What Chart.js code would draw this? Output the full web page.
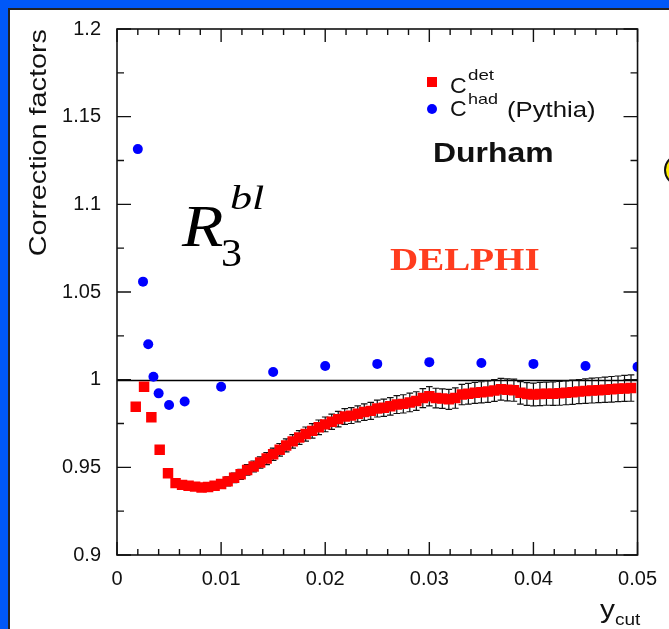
<!DOCTYPE html>
<html>
<head>
<meta charset="utf-8">
<script src="https://cdn.jsdelivr.net/npm/chart.js@4"></script>
<style>
  html, body { margin: 0; padding: 0; }
  body { width: 669px; height: 629px; background: #0058f8; position: relative; overflow: hidden; }
  #panel { position: absolute; left: 8px; top: 8px; width: 700px; height: 700px; background: #fff; border-left: 2px solid #222; border-top: 2px solid #222; }
  #bubble { position: absolute; left: 664px; top: 154px; width: 28px; height: 28px; border-radius: 50%; background: #ffee00; border: 2px solid #111; }
  #c { position: absolute; left: 0; top: 0; }
</style>
</head>
<body>
<div id="panel"></div>
<div id="bubble"></div>
<canvas id="c" width="669" height="629"></canvas>
<script>
// C_det (detector correction) : points, values and errors
const detX = [0.0018, 0.0026, 0.0033, 0.0041, 0.0049,
  0.005625, 0.00625, 0.006875, 0.0075, 0.008125, 0.00875, 0.009375, 0.01,
  0.010625, 0.01125, 0.011875, 0.0125, 0.013125, 0.01375, 0.014375, 0.015,
  0.015625, 0.01625, 0.016875, 0.0175, 0.018125, 0.01875, 0.019375, 0.02,
  0.020625, 0.02125, 0.021875, 0.0225, 0.023125, 0.02375, 0.024375, 0.025,
  0.025625, 0.02625, 0.026875, 0.0275, 0.028125, 0.02875, 0.029375, 0.03,
  0.030625, 0.03125, 0.031875, 0.0325, 0.033125, 0.03375, 0.034375, 0.035,
  0.035625, 0.03625, 0.036875, 0.0375, 0.038125, 0.03875, 0.039375, 0.04,
  0.040625, 0.04125, 0.041875, 0.0425, 0.043125, 0.04375, 0.044375, 0.045,
  0.045625, 0.04625, 0.046875, 0.0475, 0.048125, 0.04875, 0.049375];
const detY = [0.9846, 0.9960, 0.9786, 0.9600, 0.9466,
  0.9410, 0.9400, 0.9395, 0.9390, 0.9385, 0.9388, 0.9395, 0.9405,
  0.9420, 0.9440, 0.9460, 0.9485, 0.9505, 0.9528, 0.9550, 0.9575,
  0.9600, 0.9625, 0.9648, 0.9670, 0.9690, 0.9708, 0.9728, 0.9745,
  0.9760, 0.9775, 0.9790, 0.9795, 0.9805, 0.9815, 0.9822, 0.9835,
  0.9840, 0.9848, 0.9858, 0.9862, 0.9870, 0.9878, 0.9895, 0.9905,
  0.9895, 0.9892, 0.9888, 0.9895, 0.9915, 0.9920, 0.9925, 0.9928,
  0.9932, 0.9938, 0.9945, 0.9942, 0.9940, 0.9925, 0.9918, 0.9915,
  0.9918, 0.9920, 0.9920, 0.9922, 0.9925, 0.9928, 0.9932, 0.9935,
  0.9938, 0.9940, 0.9942, 0.9945, 0.9948, 0.9950, 0.9952];
const detErr = [0.0020, 0.0020, 0.0020, 0.0020, 0.0020,
  0.0018, 0.0019, 0.0020, 0.0021, 0.0022, 0.0023, 0.0024, 0.0025,
  0.0026, 0.0027, 0.0029, 0.0030, 0.0031, 0.0032, 0.0034, 0.0035,
  0.0036, 0.0037, 0.0038, 0.0039, 0.0040, 0.0041, 0.0042, 0.0042,
  0.0043, 0.0044, 0.0045, 0.0045, 0.0046, 0.0047, 0.0048, 0.0048,
  0.0049, 0.0050, 0.0051, 0.0052, 0.0053, 0.0053, 0.0054, 0.0055,
  0.0056, 0.0056, 0.0057, 0.0058, 0.0058, 0.0059, 0.0060, 0.0060,
  0.0061, 0.0062, 0.0062, 0.0063, 0.0063, 0.0064, 0.0065, 0.0065,
  0.0066, 0.0066, 0.0067, 0.0068, 0.0068, 0.0069, 0.0069, 0.0070,
  0.0071, 0.0071, 0.0072, 0.0073, 0.0073, 0.0074, 0.0075];

// C_had (Pythia)
const hadX = [0.002, 0.0025, 0.003, 0.0035, 0.004, 0.005, 0.0065, 0.01,
  0.015, 0.02, 0.025, 0.03, 0.035, 0.04, 0.045, 0.05];
const hadY = [1.1315, 1.0559, 1.0202, 1.0017, 0.9922, 0.9856, 0.9875, 0.9960,
  1.0044, 1.0078, 1.0090, 1.0100, 1.0095, 1.0090, 1.0078, 1.0073];

const xTickLabels = ['0', '0.01', '0.02', '0.03', '0.04', '0.05'];
const yTickLabels = ['0.9', '0.95', '1', '1.05', '1.1', '1.15', '1.2'];
const refLine = 1;

const SANS = "'Liberation Sans', Arial, sans-serif";
const SERIF = "'Liberation Serif', 'Times New Roman', serif";

// text a bit wider than the font, like the ROOT/latex rendering of the slide
function txt(ctx, s, x, y, font, sx = 1, rot = 0) {
  ctx.save();
  ctx.translate(x, y);
  if (rot) ctx.rotate(rot);
  ctx.scale(sx, 1);
  ctx.font = font;
  ctx.fillText(s, 0, 0);
  ctx.restore();
}

/* error bars, line at 1, frame with inward ticks, and the texts */
const decor = {
  id: 'decor',
  beforeDatasetsDraw(chart) {
    const { ctx, chartArea: a, scales: { x, y } } = chart;
    ctx.save();
    ctx.strokeStyle = '#000';
    ctx.lineWidth = 1.5;
    const y1 = Math.round(y.getPixelForValue(refLine)) + 0.5;
    ctx.beginPath(); ctx.moveTo(a.left, y1); ctx.lineTo(a.right, y1); ctx.stroke();

    ctx.lineWidth = 1.2;
    ctx.strokeStyle = '#111';
    detX.forEach((v, i) => {
      const px = x.getPixelForValue(v);
      const top = y.getPixelForValue(detY[i] + detErr[i]);
      const bot = y.getPixelForValue(detY[i] - detErr[i]);
      ctx.beginPath();
      ctx.moveTo(px, top); ctx.lineTo(px, bot);
      ctx.moveTo(px - 3.3, top); ctx.lineTo(px + 3.3, top);
      ctx.moveTo(px - 3.3, bot); ctx.lineTo(px + 3.3, bot);
      ctx.stroke();
    });
    ctx.restore();
  },
  afterDatasetsDraw(chart) {
    const { ctx, chartArea: a, scales: { x, y } } = chart;
    ctx.save();
    ctx.strokeStyle = '#111';
    ctx.lineWidth = 1.6;
    ctx.strokeRect(a.left, a.top, a.right - a.left, a.bottom - a.top);

    ctx.lineWidth = 1.4;
    ctx.beginPath();
    // x: major every 0.01, minor every 0.002
    for (let k = 0; k <= 25; k++) {
      const px = x.getPixelForValue(k * 0.002);
      const len = k % 5 === 0 ? 13 : 6;
      ctx.moveTo(px, a.bottom); ctx.lineTo(px, a.bottom - len);
      ctx.moveTo(px, a.top); ctx.lineTo(px, a.top + len);
    }
    // y: major every 0.05, minor every 0.025
    for (let k = 0; k <= 12; k++) {
      const py = y.getPixelForValue(0.9 + k * 0.025);
      const len = k % 2 === 0 ? 14 : 7;
      ctx.moveTo(a.left, py); ctx.lineTo(a.left + len, py);
      ctx.moveTo(a.right, py); ctx.lineTo(a.right - len, py);
    }
    ctx.stroke();
    ctx.restore();
  },
  afterDraw(chart) {
    const { ctx, chartArea: a } = chart;
    const ds = chart.data.datasets;
    ctx.save();
    ctx.textBaseline = 'alphabetic';
    ctx.textAlign = 'left';

    // legend
    ctx.fillStyle = ds[0].backgroundColor;
    ctx.fillRect(427, 77, 10, 10);
    ctx.fillStyle = ds[1].backgroundColor;
    ctx.beginPath(); ctx.arc(432, 109, 5, 0, Math.PI * 2); ctx.fill();

    ctx.fillStyle = '#111';
    txt(ctx, 'C', 450, 93, `22px ${SANS}`, 1.05);
    txt(ctx, 'C', 450, 116, `22px ${SANS}`, 1.05);
    txt(ctx, '(Pythia)', 507, 117, `22px ${SANS}`, 1.17);
    txt(ctx, 'det', 468, 80, `15px ${SANS}`, 1.25);
    txt(ctx, 'had', 468, 104, `15px ${SANS}`, 1.2);

    txt(ctx, 'Durham', 433, 162, `bold 28px ${SANS}`, 1.14);

    // R_3^bl
    ctx.fillStyle = '#000';
    txt(ctx, 'R', 182, 246, `italic 60px ${SERIF}`, 1.13);
    txt(ctx, 'bl', 230, 209, `italic 34px ${SERIF}`, 1.3);
    txt(ctx, '3', 221, 266, `40px ${SERIF}`, 1.05);

    ctx.fillStyle = '#ff3c1e';
    txt(ctx, 'DELPHI', 390, 270, `bold 32px ${SERIF}`, 1.22);

    // axis titles
    ctx.fillStyle = '#111';
    txt(ctx, 'y', 600, 618, `26px ${SANS}`, 1.15);
    txt(ctx, 'cut', 615, 625, `17px ${SANS}`, 1.12);
    ctx.textAlign = 'right';
    txt(ctx, 'Correction factors', 46, a.top, `24px ${SANS}`, 1.2, -Math.PI / 2);
    ctx.restore();
  }
};

new Chart(document.getElementById('c'), {
  type: 'scatter',
  data: {
    datasets: [
      {
        label: 'C det',
        data: detX.map((v, i) => ({ x: v, y: detY[i] })),
        pointStyle: 'rect',
        pointRadius: 7.4,
        backgroundColor: '#ff0000',
        borderWidth: 0,
      },
      {
        label: 'C had (Pythia)',
        data: hadX.map((v, i) => ({ x: v, y: hadY[i] })),
        pointStyle: 'circle',
        pointRadius: 5,
        backgroundColor: '#0000ff',
        borderWidth: 0,
      },
    ],
  },
  options: {
    responsive: false,
    animation: false,
    events: [],
    layout: { padding: { top: 29, right: 27, left: 0, bottom: 0 } },
    plugins: { legend: { display: false }, tooltip: { enabled: false } },
    scales: {
      x: {
        type: 'linear', min: 0, max: 0.05,
        grid: { display: false, drawTicks: false },
        border: { display: false },
        ticks: {
          stepSize: 0.01, padding: 12, color: '#111', maxRotation: 0,
          font: { family: SANS, size: 20 },
          callback: (v, i) => xTickLabels[i],
        },
        afterFit(s) { s.height = 74; },
      },
      y: {
        type: 'linear', min: 0.9, max: 1.2,
        grid: { display: false, drawTicks: false },
        border: { display: false },
        ticks: {
          stepSize: 0.05, padding: 16, color: '#111',
          font: { family: SANS, size: 20 },
          callback: (v, i) => yTickLabels[i],
        },
        afterFit(s) { s.width = 117; },
      },
    },
  },
  plugins: [decor],
});
</script>
</body>
</html>
